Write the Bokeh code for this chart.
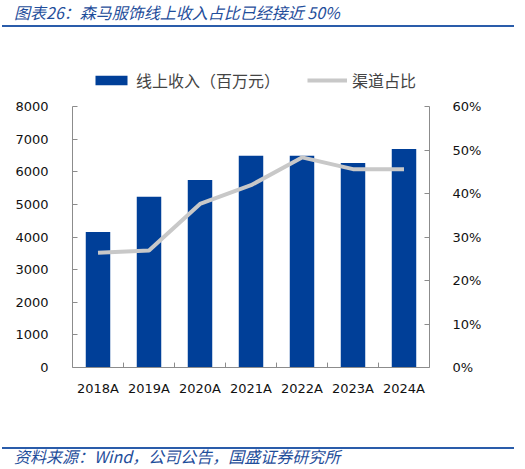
from bokeh.plotting import figure
from bokeh.models import (ColumnDataSource, Range1d, LinearAxis, FixedTicker,
                          NumeralTickFormatter, Legend, LegendItem, Div)
from bokeh.layouts import column
from bokeh.transform import dodge
from bokeh.embed import file_html
from bokeh.resources import INLINE

# 数据
years = ["2018A", "2019A", "2020A", "2021A", "2022A", "2023A", "2024A"]
online_revenue = [4150, 5230, 5750, 6490, 6490, 6270, 6700]   # 百万元
channel_share = [0.264, 0.269, 0.376, 0.419, 0.483, 0.456, 0.456]

rev_ticks = [0, 1000, 2000, 3000, 4000, 5000, 6000, 7000, 8000]
pct_ticks = [0, 0.1, 0.2, 0.3, 0.4, 0.5, 0.6]

title_text = "图表26：森马服饰线上收入占比已经接近 50%"
source_text = "资料来源：Wind，公司公告，国盛证券研究所"
bar_name = "线上收入（百万元）"
line_name = "渠道占比"

BLUE = "#003F98"
GREY = "#C8C8C8"
AXIS = "#8C8C8C"
CJK = "Noto Sans CJK SC"

source = ColumnDataSource(dict(year=years, revenue=online_revenue, share=channel_share))
gaps = ColumnDataSource(dict(year=years[:-1], y0=[0] * 6, y1=[150] * 6))

# 主图
p = figure(x_range=years, y_range=Range1d(0, 8000), width=509, height=348,
           output_backend="svg", toolbar_location=None,
           min_border_left=72, min_border_right=80, min_border_top=12, min_border_bottom=75)
p.extra_y_ranges = {"pct": Range1d(0, 0.6)}
p.outline_line_color = None
p.xgrid.grid_line_color = None
p.ygrid.grid_line_color = None

p.vbar(x="year", top="revenue", width=0.48, fill_color=BLUE, line_color=None, source=source)
p.line(x="year", y="share", y_range_name="pct", line_width=4, line_color=GREY, source=source)

# 类别之间的刻度
p.segment(x0=dodge("year", 0.5, range=p.x_range), y0="y0",
          x1=dodge("year", 0.5, range=p.x_range), y1="y1",
          line_color=AXIS, line_width=1, source=gaps)

right = LinearAxis(y_range_name="pct", ticker=FixedTicker(ticks=pct_ticks),
                   formatter=NumeralTickFormatter(format="0%"))
p.add_layout(right, "right")

p.yaxis[0].ticker = FixedTicker(ticks=rev_ticks)

for ax in [p.yaxis[0], right]:
    ax.major_tick_in = 5
    ax.major_tick_out = 0
    ax.minor_tick_line_color = None
    ax.axis_line_color = AXIS
    ax.major_tick_line_color = AXIS
    ax.major_label_text_font = "DejaVu Sans"
    ax.major_label_text_font_size = "13px"
    ax.major_label_text_color = "#111111"
p.yaxis[0].major_label_standoff = 24
right.major_label_standoff = 23

p.xaxis.major_tick_line_color = None
p.xaxis.axis_line_color = AXIS
p.xaxis.major_label_text_font = "DejaVu Sans"
p.xaxis.major_label_text_font_size = "13px"
p.xaxis.major_label_text_color = "#111111"
p.xaxis.major_label_standoff = 7

# 图例（单独一个小图，放在主图上方；列布局会对齐两图的绘图区）
lg = figure(width=509, height=58, x_range=Range1d(0, 1), y_range=Range1d(0, 1),
            output_backend="svg", toolbar_location=None,
            min_border_left=72, min_border_right=80, min_border_top=0, min_border_bottom=0,
            outline_line_color=None)
lg.axis.visible = False
lg.grid.visible = False
hidden = ColumnDataSource(dict(x=[0.5], y=[0.5]))
r_bar = lg.vbar(x="x", bottom="y", top="y", width=0.5, fill_color=BLUE, line_color=None, source=hidden)
r_line = lg.line(x="x", y="y", line_width=4, line_color=GREY, source=hidden)

legend = Legend(items=[LegendItem(label=bar_name, renderers=[r_bar]),
                       LegendItem(label=line_name, renderers=[r_line])],
                orientation="horizontal", location=(19, 2))
legend.label_text_font = CJK
legend.label_text_font_size = "16px"
legend.glyph_width = 40
legend.glyph_height = 12
legend.spacing = 27
legend.padding = 0
legend.margin = 0
legend.border_line_color = None
legend.background_fill_alpha = 0
lg.add_layout(legend, "center")

head = Div(width=512, height=26, text=(
    '<div style="margin-left:-3px;width:512px;height:22px;border-bottom:2px solid #2A5CAA;'
    'font-family:\'Noto Sans CJK SC\';font-style:italic;font-size:16px;color:#1F4E9B;'
    'line-height:14px;padding-left:12px;box-sizing:border-box;padding-top:0px">'
    + title_text + '</div>'))

foot = Div(width=512, height=22, text=(
    '<div style="margin-left:-3px;width:512px;border-top:2px solid #2A5CAA;'
    'font-family:\'Noto Sans CJK SC\';font-style:italic;font-size:16px;color:#1F4E9B;'
    'line-height:15px;padding-left:12px;box-sizing:border-box">'
    + source_text + '</div>'))

layout = column(head, lg, p, foot, spacing=0)

open("out.html", "w").write(file_html(layout, INLINE))
